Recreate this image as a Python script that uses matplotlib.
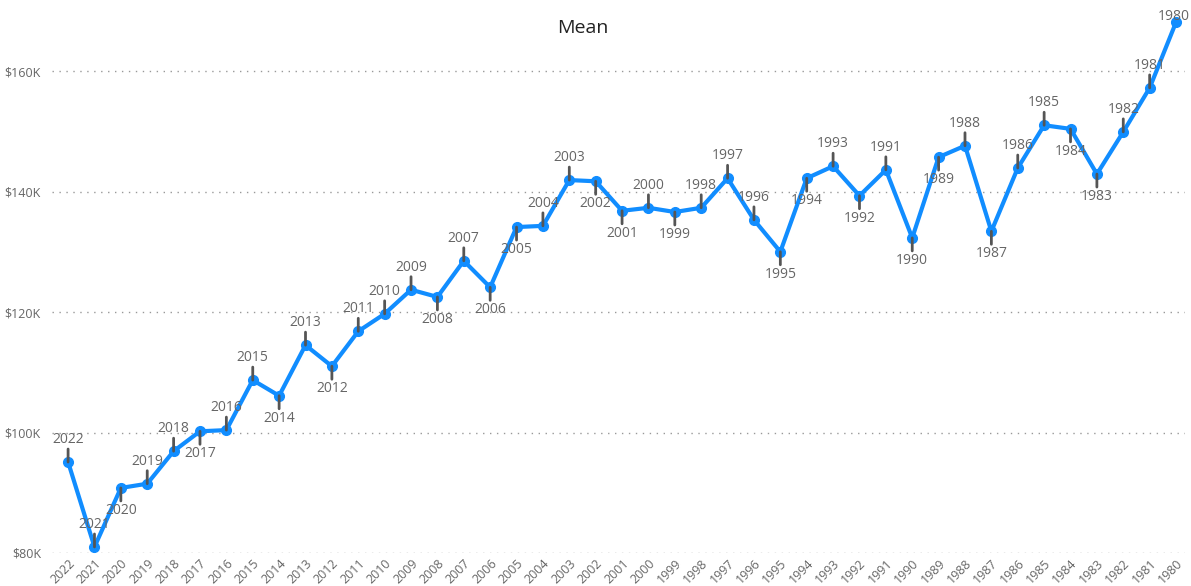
import matplotlib.pyplot as plt
from matplotlib.ticker import FuncFormatter

plt.rcParams['font.family'] = ['Open Sans', 'DejaVu Sans']

# Data, in display order left to right
years = list(range(2022, 1979, -1))
mean_k = [95.1, 81.0, 90.8, 91.5, 96.9, 100.2, 100.4, 108.7, 106.1, 114.5,
          111.0, 116.8, 119.7, 123.7, 122.5, 128.5, 124.1, 134.1, 134.3, 141.9,
          141.7, 136.8, 137.3, 136.6, 137.3, 142.2, 135.3, 130.0, 142.2, 144.2,
          139.3, 143.6, 132.3, 145.7, 147.6, 133.4, 143.9, 151.0, 150.4, 142.9,
          149.9, 157.2, 168.1]
below = {2020, 2017, 2014, 2012, 2008, 2006, 2005, 2002, 2001, 1999, 1995,
         1994, 1992, 1990, 1989, 1987, 1984, 1983}

fig = plt.figure(figsize=(11.91, 5.86), dpi=100)
ax = fig.add_axes([52 / 1191, 1 - 553 / 586, (1185 - 52) / 1191, (553 - 15) / 586])

x = list(range(len(years)))
ax.plot(x, mean_k, color='#118DFF', lw=3, marker='o', ms=7, zorder=3)

for i, (yr, v) in enumerate(zip(years, mean_k)):
    d = -1 if yr in below else 1
    if yr == 1980:
        # top point: label squeezed against the top edge
        ax.annotate(str(yr), xy=(i, v), xytext=(-2, 6), textcoords='offset pixels',
                    ha='center', va='center', fontsize=10, color='#666666', zorder=5)
        continue
    ax.annotate('', xy=(i, v), xytext=(0, d * 13), textcoords='offset pixels',
                arrowprops=dict(arrowstyle='-', color='#555555', lw=2,
                                shrinkA=0, shrinkB=0), zorder=4)
    ax.annotate(str(yr), xy=(i, v), xytext=(0, d * 15), textcoords='offset pixels',
                ha='center', va='bottom' if d > 0 else 'top',
                fontsize=10, color='#666666', zorder=5)

ax.set_xlim(-0.61, 42.34)
ax.set_ylim(80, 169.3)
ax.set_yticks([80, 100, 120, 140, 160])
ax.yaxis.set_major_formatter(FuncFormatter(lambda v, p: f'${v:.0f}K'))
ax.set_xticks(x)
ax.set_xticklabels([str(y) for y in years], rotation=45, ha='right',
                   rotation_mode='anchor', fontsize=9, color='#666666')
ax.tick_params(axis='y', labelsize=9, labelcolor='#666666', length=0, pad=8)
ax.tick_params(axis='x', length=0, pad=3)
ax.grid(axis='y', linestyle=(0, (1, 4)), color='#999999', lw=1)
for s in ax.spines.values():
    s.set_visible(False)

fig.text(583 / 1191, 1 - 28 / 586, 'Mean', ha='center', va='center',
         fontsize=14, color='#222222')

fig.savefig('out.png', dpi=100)
